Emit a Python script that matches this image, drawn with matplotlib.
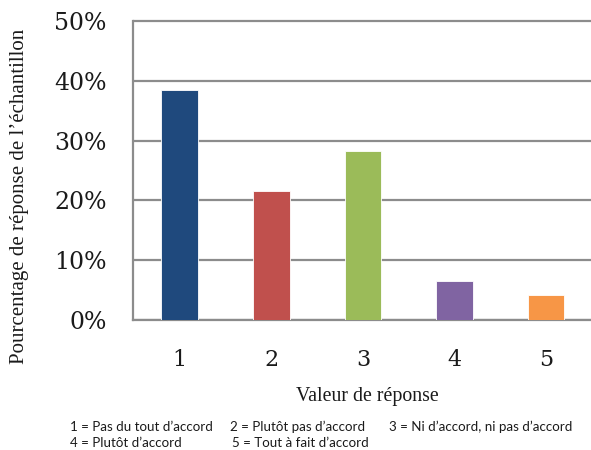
import matplotlib
matplotlib.use("Agg")
import matplotlib.pyplot as plt
from matplotlib.ticker import FuncFormatter

categories = ["1", "2", "3", "4", "5"]
values = [38.5, 21.5, 28.3, 6.45, 4.2]
colors = ["#1F497D", "#C0504D", "#9BBB59", "#8064A2", "#F79646"]
yticks = [0, 10, 20, 30, 40, 50]
notes_line1 = ["1 = Pas du tout d\u2019accord", "2 = Plut\u00f4t pas d\u2019accord", "3 = Ni d\u2019accord, ni pas d\u2019accord"]
notes_line2 = ["4 = Plut\u00f4t d\u2019accord", "5 = Tout \u00e0 fait d\u2019accord"]

W, H = 591, 450
fig = plt.figure(figsize=(W / 100, H / 100), dpi=100)
ymax = 50.5
px_per = (320 - 21) / 50
top_px = 320 - ymax * px_per
ax = fig.add_axes([133 / W, 1 - 320 / H, 1 - 133 / W, (320 - top_px) / H])

x = range(1, len(categories) + 1)
ax.bar(x, values, width=0.4, color=colors, edgecolor="white", linewidth=0.6, zorder=3)
ax.set_xlim(0.49, 5.49)
ax.set_ylim(0, ymax)
ax.set_yticks(yticks)
ax.yaxis.set_major_formatter(FuncFormatter(lambda v, p: f"{int(v)}%"))
ax.set_xticks(list(x))
ax.set_xticklabels(categories)

gc = "#8c8c8c"
ax.yaxis.grid(True, color=gc, linewidth=1.6, zorder=0)
ax.set_axisbelow(True)
for s in ["top", "right"]:
    ax.spines[s].set_visible(False)
for s in ["left", "bottom"]:
    ax.spines[s].set_color(gc)
    ax.spines[s].set_linewidth(1.6)
ax.spines["left"].set_bounds(0, 50)
ax.tick_params(axis="both", length=0)
ax.tick_params(axis="y", pad=19)
ax.tick_params(axis="x", pad=21)
for lab in ax.get_yticklabels():
    lab.set_fontfamily("DejaVu Serif")
    lab.set_fontsize(17)
    lab.set_color("#1a1a1a")
for lab in ax.get_xticklabels():
    lab.set_fontfamily("DejaVu Serif")
    lab.set_fontsize(16)
    lab.set_color("#1a1a1a")

fig.text(20 / W, 1 - 196 / H, "Pourcentage de r\u00e9ponse de l\u2019\u00e9chantillon",
         rotation=90, ha="center", va="center", fontfamily="Liberation Serif", fontsize=15, color="#1a1a1a")
fig.text(367 / W, 1 - 396 / H, "Valeur de r\u00e9ponse", ha="center", va="center",
         fontfamily="Liberation Serif", fontsize=14.3, color="#1a1a1a")

xs1 = [70, 230, 389]
for xp, t in zip(xs1, notes_line1):
    fig.text(xp / W, 1 - 427 / H, t, ha="left", va="center", fontfamily="Lato", fontsize=9.6, color="#1a1a1a")
xs2 = [70, 232]
for xp, t in zip(xs2, notes_line2):
    fig.text(xp / W, 1 - 443 / H, t, ha="left", va="center", fontfamily="Lato", fontsize=9.6, color="#1a1a1a")

fig.savefig("out.png", dpi=100, facecolor="white")
